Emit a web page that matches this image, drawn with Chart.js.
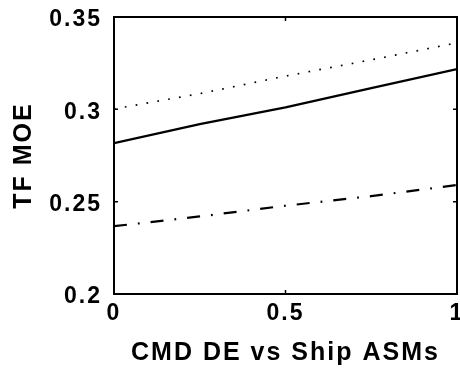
<!DOCTYPE html>
<html>
<head>
<meta charset="utf-8">
<script src="https://cdn.jsdelivr.net/npm/chart.js@4.4.1/dist/chart.umd.min.js"></script>
<style>
  html, body { margin: 0; padding: 0; background: #fff; }
  #wrap { width: 460px; height: 371px; }
</style>
</head>
<body>
<div id="wrap"><canvas id="c" width="460" height="371"></canvas></div>
<script>
// Data
const xValues = [0, 0.25, 0.5, 0.75, 1];
const solidSeries = [0.2817, 0.2920, 0.3010, 0.3115, 0.3218];
const dottedSeries = [0.3002, 0.3085, 0.3180, 0.3268, 0.3360];
const dashDotSeries = [0.2367, 0.2420, 0.2478, 0.2530, 0.2590];
const xTicks = [0, 0.5, 1];
const yTicks = [0.2, 0.25, 0.3, 0.35];
const xTitle = 'CMD DE vs Ship ASMs';
const yTitle = 'TF MOE';

const toPts = (ys) => xValues.map((x, i) => ({ x: x, y: ys[i] }));

const spacingPlugin = {
  id: 'spacing',
  beforeUpdate(chart) { chart.ctx.letterSpacing = '2px'; },
  beforeLayout(chart) { chart.ctx.letterSpacing = '2px'; },
  beforeDraw(chart) { chart.ctx.letterSpacing = '2px'; }
};

const framePlugin = {
  id: 'frame',
  afterDatasetsDraw(chart) {
    const { ctx, chartArea: a, scales } = chart;
    ctx.save();
    ctx.strokeStyle = '#000';
    ctx.lineWidth = 2;
    ctx.beginPath();
    ctx.rect(a.left, a.top, a.right - a.left, a.bottom - a.top);
    ctx.stroke();
    ctx.lineWidth = 1.5;
    ctx.beginPath();
    const len = 4;
    yTicks.forEach(v => {
      const y = scales.y.getPixelForValue(v);
      ctx.moveTo(a.left, y); ctx.lineTo(a.left + len, y);
      ctx.moveTo(a.right, y); ctx.lineTo(a.right - len, y);
    });
    xTicks.forEach(v => {
      const x = scales.x.getPixelForValue(v);
      ctx.moveTo(x, a.bottom); ctx.lineTo(x, a.bottom - len);
      ctx.moveTo(x, a.top); ctx.lineTo(x, a.top + len);
    });
    ctx.stroke();
    ctx.restore();
  }
};

const tickFont = { family: 'Liberation Sans', weight: 'bold', size: 23 };
const titleFont = { family: 'Liberation Sans', weight: 'bold', size: 25, lineHeight: 1.2 };

new Chart(document.getElementById('c'), {
  type: 'line',
  data: {
    datasets: [
      { data: toPts(dottedSeries), borderColor: '#000', borderWidth: 1.7, borderDash: [1.7, 9.3], pointRadius: 0, tension: 0, fill: false },
      { data: toPts(solidSeries), borderColor: '#000', borderWidth: 2.3, pointRadius: 0, tension: 0, fill: false },
      { data: toPts(dashDotSeries), borderColor: '#000', borderWidth: 2.2, borderDash: [13, 11, 1.8, 11], pointRadius: 0, tension: 0, fill: false }
    ]
  },
  options: {
    responsive: false,
    animation: false,
    events: [],
    layout: { padding: { left: 0, right: 3, top: 17, bottom: 0 } },
    plugins: { legend: { display: false }, tooltip: { enabled: false } },
    scales: {
      x: {
        type: 'linear',
        min: 0, max: 1,
        afterBuildTicks(scale) { scale.ticks = xTicks.map(v => ({ value: v })); },
        afterFit(scale) { scale.height = 77; scale.paddingLeft = 0; scale.paddingRight = 0; },
        grid: { display: false, drawTicks: false },
        border: { display: false },
        ticks: {
          color: '#000',
          font: tickFont,
          padding: 6,
          maxRotation: 0,
          autoSkip: false,
          callback: (v) => String(v)
        },
        title: {
          display: true,
          text: xTitle,
          color: '#000',
          font: titleFont,
          padding: { top: 0, bottom: 3 }
        }
      },
      y: {
        type: 'linear',
        min: 0.2, max: 0.35,
        afterBuildTicks(scale) { scale.ticks = yTicks.map(v => ({ value: v })); },
        afterFit(scale) { scale.width = 114; scale.paddingTop = 0; scale.paddingBottom = 0; },
        grid: { display: false, drawTicks: false },
        border: { display: false },
        ticks: {
          color: '#000',
          font: tickFont,
          padding: 12,
          labelOffset: 3,
          autoSkip: false,
          callback: (v) => String(v)
        },
        title: {
          display: true,
          text: yTitle,
          color: '#000',
          font: titleFont,
          padding: { top: 9, bottom: 0 }
        }
      }
    }
  },
  plugins: [spacingPlugin, framePlugin]
});
</script>
</body>
</html>
